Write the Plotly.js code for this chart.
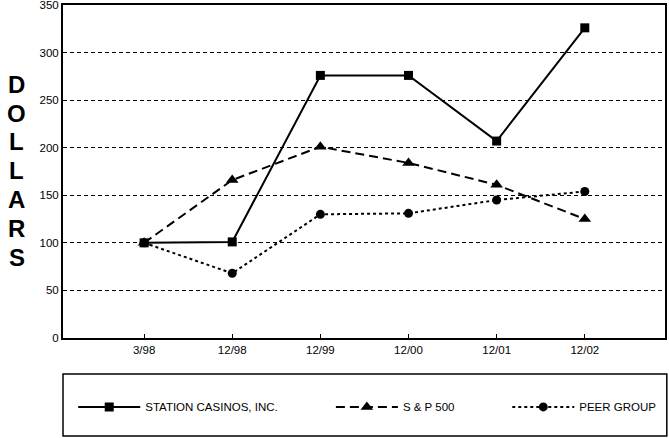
<!DOCTYPE html>
<html>
<head>
<meta charset="utf-8">
<script src="https://cdn.plot.ly/plotly-3.0.1.min.js"></script>
<style>
	html, body { margin: 0; padding: 0; background: #fff; }
	#grafico { width: 669px; height: 438px; }
</style>
</head>
<body>
<div id="grafico"></div>
<script>
// Datos
const periodos = ["3/98", "12/98", "12/99", "12/00", "12/01", "12/02"];
const station = [100, 101, 276, 276, 207, 326];
const sp500 = [100, 166, 201, 184, 161, 125];
const peer = [100, 68, 130, 131, 145, 154];
const nombres = ["STATION CASINOS, INC.", "S & P 500", "PEER GROUP"];
const ticksY = [0, 50, 100, 150, 200, 250, 300, 350];

const fuente = "Arial, 'Liberation Sans', Helvetica, sans-serif";

function crearTraza(valores, nombre, simbolo, guion, tam, leyenda) {
	return {
		x: periodos,
		y: valores,
		type: "scatter",
		mode: "lines+markers",
		name: nombre,
		legend: leyenda,
		line: { color: "#000", width: 2, dash: guion },
		marker: { color: "#000", symbol: simbolo, size: tam },
	};
}

let traces = [
	crearTraza(station, nombres[0], "square", "solid", 9, "legend"),
	crearTraza(sp500, nombres[1], "triangle-up", "9px,5px", 11, "legend2"),
	crearTraza(peer, nombres[2], "circle", "3px,3px", 9, "legend3"),
];

// una leyenda por serie, todas dentro del recuadro inferior
function crearLeyenda(x) {
	return {
		orientation: "h",
		x: x,
		xanchor: "left",
		y: -0.207,
		yanchor: "middle",
		itemwidth: 62,
		font: { size: 11.5 },
		bgcolor: "rgba(0,0,0,0)",
	};
}

// etiqueta vertical "DOLLARS", una letra por anotacion
let anotaciones = "DOLLARS".split("").map((letra, i) => ({
	text: letra,
	xref: "paper",
	yref: "paper",
	x: -0.077,
	y: 0.762 - i * 0.0865,
	xanchor: "center",
	yanchor: "middle",
	showarrow: false,
	font: { family: fuente, size: 24, color: "#000", weight: "bold" },
}));

let layout = {
	width: 669,
	height: 438,
	margin: { l: 63, r: 4, t: 5, b: 100 },
	paper_bgcolor: "#fff",
	plot_bgcolor: "#fff",
	font: { family: fuente, size: 11.5, color: "#000" },
	showlegend: true,
	xaxis: {
		type: "category",
		range: [-0.92, 5.91],
		showgrid: false,
		showline: true,
		mirror: true,
		linecolor: "#000",
		linewidth: 2,
		ticks: "inside",
		ticklen: 4,
		tickcolor: "#000",
		tickfont: { size: 11.5 },
		fixedrange: true,
	},
	yaxis: {
		range: [0, 350],
		tickvals: ticksY,
		showgrid: true,
		gridcolor: "#000",
		gridwidth: 1,
		griddash: "4px,3px",
		zeroline: false,
		showline: true,
		mirror: true,
		linecolor: "#000",
		linewidth: 2,
		ticks: "",
		ticklabeloverflow: "allow",
		tickfont: { size: 11.5 },
		fixedrange: true,
	},
	legend: crearLeyenda(0.017),
	legend2: crearLeyenda(0.445),
	legend3: crearLeyenda(0.738),
	shapes: [
		{
			type: "rect",
			xref: "paper",
			yref: "paper",
			x0: 0,
			x1: 1.003,
			y0: -0.108,
			y1: -0.294,
			line: { color: "#000", width: 1.5 },
		},
	],
	annotations: anotaciones,
};

Plotly.newPlot("grafico", traces, layout, { staticPlot: true, displayModeBar: false });
</script>
</body>
</html>
